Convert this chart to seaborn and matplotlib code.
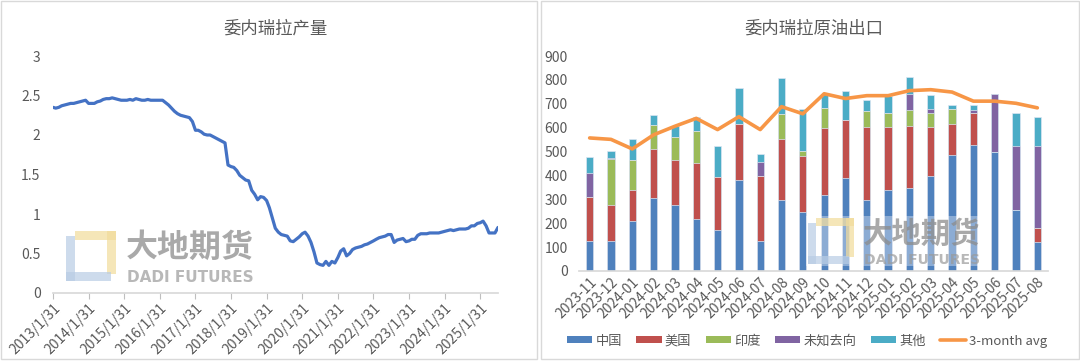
import numpy as np
import pandas as pd
import matplotlib
matplotlib.use("Agg")
import matplotlib.pyplot as plt
from matplotlib.patches import Rectangle, Patch
from matplotlib.lines import Line2D
import seaborn as sns

# ---------------- data ----------------
prod_start = "2013-01-31"
production = [
    2.35, 2.34, 2.35, 2.37, 2.38, 2.39, 2.40, 2.40, 2.41, 2.42, 2.43, 2.44,   # 2013
    2.40, 2.40, 2.40, 2.42, 2.43, 2.45, 2.46, 2.46, 2.47, 2.46, 2.45, 2.44,   # 2014
    2.44, 2.44, 2.45, 2.44, 2.46, 2.45, 2.44, 2.44, 2.45, 2.44, 2.44, 2.44,   # 2015
    2.44, 2.44, 2.41, 2.38, 2.34, 2.30, 2.27, 2.25, 2.24, 2.23, 2.22, 2.17,   # 2016
    2.06, 2.06, 2.04, 2.01, 2.00, 2.00, 1.98, 1.96, 1.94, 1.92, 1.90, 1.62,   # 2017
    1.60, 1.59, 1.55, 1.49, 1.46, 1.43, 1.42, 1.30, 1.25, 1.18, 1.22, 1.21,   # 2018
    1.17, 1.08, 0.95, 0.82, 0.77, 0.74, 0.73, 0.72, 0.66, 0.65, 0.68, 0.71,   # 2019
    0.75, 0.77, 0.72, 0.64, 0.52, 0.38, 0.36, 0.35, 0.40, 0.35, 0.40, 0.38,   # 2020
    0.45, 0.53, 0.56, 0.47, 0.50, 0.55, 0.57, 0.58, 0.59, 0.61, 0.62, 0.64,   # 2021
    0.66, 0.68, 0.70, 0.71, 0.72, 0.74, 0.74, 0.64, 0.67, 0.68, 0.69, 0.65,   # 2022
    0.66, 0.68, 0.68, 0.73, 0.75, 0.75, 0.75, 0.76, 0.76, 0.76, 0.76, 0.77,   # 2023
    0.78, 0.79, 0.80, 0.79, 0.80, 0.81, 0.81, 0.81, 0.82, 0.85, 0.85, 0.88,   # 2024
    0.89, 0.91, 0.85, 0.76, 0.76, 0.76, 0.83,                                 # 2025
]
prod_yticks = [0, 0.5, 1, 1.5, 2, 2.5, 3]
prod_tick_years = list(range(2013, 2026))

months = ["2023-11", "2023-12", "2024-01", "2024-02", "2024-03", "2024-04",
          "2024-05", "2024-06", "2024-07", "2024-08", "2024-09", "2024-10",
          "2024-11", "2024-12", "2025-01", "2025-02", "2025-03", "2025-04",
          "2025-05", "2025-06", "2025-07", "2025-08"]
china   = [124, 124, 211, 307, 278, 219, 170, 380, 124, 296, 245, 317, 390, 299, 337, 349, 398, 485, 527, 499, 254, 122]
usa     = [186, 153, 127, 203, 186, 235, 223, 235, 274, 255, 237, 283, 242, 305, 265, 257, 204, 130, 135,   0,   0,  60]
india   = [  0, 191, 127, 101,  95, 130,   0,   0,   0, 106,  22,  83,   0,  64,  60,  68,  60,  63,   0,   0,   0,   0]
unknown = [ 99,   4,   0,   0,   0,   0,   0,   0,  60,   0,   0,   0,   0,   0,   0,  68,  17,   0,  11, 242, 270, 341]
other   = [ 68,  30,  88,  42,  50,  60, 132, 149,  31, 151, 174,  57, 120,  49,  70,  70,  57,  15,  23,   0, 138, 121]
avg3    = [557, 551, 511, 570, 606, 639, 592, 646, 592, 688, 658, 742, 722, 734, 734, 755, 759, 749, 711, 711, 702, 683]
export_yticks = list(range(0, 901, 100))

series_names = ["中国", "美国", "印度", "未知去向", "其他"]
series_colors = ["#4F81BD", "#C0504D", "#9BBB59", "#8064A2", "#4BACC6"]
line_color = "#F79646"
line_name = "3-month avg"

# ---------------- style ----------------
sns.set_theme(style="white")
plt.rcParams["font.family"] = ["Noto Sans CJK SC", "DejaVu Sans"]
txt = "#595959"

fig = plt.figure(figsize=(10.8, 3.61), dpi=100)
W, H = 1080, 361

def fx(px):
    return px / W

def fy(py):
    return 1 - py / H

# panel borders
for x0, x1 in [(1, 537), (541, 1079)]:
    fig.patches.append(Rectangle((fx(x0), fy(359)), fx(x1 - x0), 358 / H,
                                 transform=fig.transFigure, fill=False,
                                 edgecolor="#D9D9D9", lw=1.0))

# ---------------- left chart ----------------
axL = fig.add_axes([fx(53), fy(293), fx(498 - 53), (293 - 56) / H])
dates = pd.date_range(prod_start, periods=len(production), freq="ME")
dfL = pd.DataFrame({"date": dates, "value": production})
sns.lineplot(data=dfL, x="date", y="value", ax=axL, color="#4472C4", lw=2.3)
axL.set_ylim(0, 3)
axL.set_yticks(prod_yticks)
axL.set_yticklabels([f"{v:g}" for v in prod_yticks])
axL.set_xlim(pd.Timestamp("2013-01-31"), pd.Timestamp("2025-07-31"))
yt = [pd.Timestamp(f"{y}-01-31") for y in prod_tick_years]
axL.set_xticks(yt)
axL.set_xticklabels([f"{d.year}/1/31" for d in yt], rotation=45, ha="right",
                    rotation_mode="anchor")
axL.set_xlabel("")
axL.set_ylabel("")
for s in ["top", "right", "left"]:
    axL.spines[s].set_visible(False)
axL.spines["bottom"].set_color("#D9D9D9")
axL.tick_params(axis="x", colors="#BFBFBF", length=4, width=0.8, direction="out",
                labelcolor=txt, labelsize=10, pad=2, bottom=True)
axL.tick_params(axis="y", length=0, labelcolor=txt, labelsize=10, pad=9)
axL.set_title("委内瑞拉产量", color=txt, fontsize=12.5, pad=16)

# ---------------- right chart ----------------
axR = fig.add_axes([fx(579), fy(271), fx(1048 - 579), (271 - 56) / H])
dfR = pd.DataFrame({"month": months, "中国": china, "美国": usa, "印度": india,
                    "未知去向": unknown, "其他": other})
cum = dfR[series_names].cumsum(axis=1)
for name, col in reversed(list(zip(series_names, series_colors))):
    sns.barplot(x=dfR["month"], y=cum[name], ax=axR, color=col, width=0.34,
                saturation=1, edgecolor="#DCE6F2", linewidth=0.5)
sns.lineplot(x=np.arange(len(months)), y=avg3, ax=axR, color=line_color, lw=2.6)
axR.set_xlim(-0.5, len(months) - 0.5)
axR.set_ylim(0, 900)
axR.set_yticks(export_yticks)
axR.set_yticklabels([str(v) for v in export_yticks])
axR.set_xticks(range(len(months)))
axR.set_xticklabels(months, rotation=45, ha="right", rotation_mode="anchor")
axR.set_xlabel("")
axR.set_ylabel("")
for s in ["top", "right", "left"]:
    axR.spines[s].set_visible(False)
axR.spines["bottom"].set_color("#D9D9D9")
axR.tick_params(axis="x", length=0, labelcolor=txt, labelsize=10, pad=3)
axR.tick_params(axis="y", length=0, labelcolor=txt, labelsize=10, pad=8)
axR.set_title("委内瑞拉原油出口", color=txt, fontsize=12.5, pad=16)

handles = [Patch(facecolor=c, edgecolor="none") for c in series_colors]
handles.append(Line2D([0], [0], color=line_color, lw=2.6))
fig.legend(handles, series_names + [line_name], loc="center",
           bbox_to_anchor=(fx(807), fy(341)), ncol=6, frameon=False,
           fontsize=9.5, labelcolor=txt, handlelength=1.9, handleheight=0.45,
           columnspacing=1.1, handletextpad=0.25)

# ---------------- watermarks ----------------
def watermark(x0, y0, s, band=False):
    size = 50 * s
    if band:
        fig.patches.append(Rectangle((fx(x0 - 2), fy(y0 + size + 2)), fx(200 * s), (size + 4) / H,
                                     transform=fig.transFigure, facecolor="white",
                                     alpha=0.35, edgecolor="none", zorder=5))
    th = 9 * s
    blue, yellow = "#B8CCE4", "#F2DC9B"
    for (px, py, w, h) in [(x0 + th, y0, size - th, th), (x0 + size - th, y0, th, size * 0.85)]:
        fig.patches.append(Rectangle((fx(px), fy(py + h)), fx(w), h / H,
                                     transform=fig.transFigure, facecolor=yellow,
                                     alpha=0.7, edgecolor="none", zorder=6))
    for (px, py, w, h) in [(x0, y0 + th * 0.6, th, size - th * 0.6), (x0, y0 + size - th, size * 0.9, th)]:
        fig.patches.append(Rectangle((fx(px), fy(py + h)), fx(w), h / H,
                                     transform=fig.transFigure, facecolor=blue,
                                     alpha=0.7, edgecolor="none", zorder=6))
    fig.text(fx(x0 + size + 10 * s), fy(y0 + size * 0.34), "大地期货",
             fontsize=23 * s, fontweight="bold", color="#8C8C8C", alpha=0.75,
             ha="left", va="center", zorder=7)
    fig.text(fx(x0 + size + 11 * s), fy(y0 + size * 0.92), "DADI FUTURES",
             fontsize=11 * s, fontweight="bold", color="#9A9A9A", alpha=0.7,
             ha="left", va="center", family=["DejaVu Sans"], zorder=7)

watermark(66, 231, 1.0)
watermark(808, 218, 0.92, band=True)

fig.savefig("out.png", dpi=100)
